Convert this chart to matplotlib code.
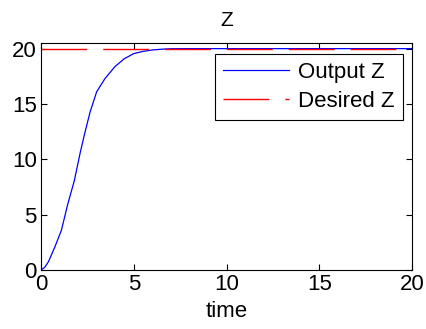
import matplotlib
matplotlib.use("Agg")
import matplotlib.pyplot as plt

# values
t = [0, 0.2, 0.4, 0.75, 1.1, 1.45, 1.8, 2.1, 2.35, 2.65, 3.0, 3.45,
     4.0, 4.5, 5.0, 5.5, 6.0, 6.6, 7.0, 8.0, 20]
z_out = [0, 0.25, 0.75, 2.1, 3.6, 6.0, 8.1, 10.5, 12.3, 14.3, 16.1, 17.3,
         18.4, 19.1, 19.55, 19.75, 19.88, 19.96, 19.99, 20.0, 20.0]
t_des = [0, 20]
z_des = [20, 20]

plt.rcParams['font.family'] = ['Liberation Sans', 'DejaVu Sans']
plt.rcParams['font.size'] = 16

fig = plt.figure(figsize=(4.27, 3.29), dpi=100)
ax = fig.add_axes([0.096, 0.179, 0.869, 0.690])

ax.plot(t, z_out, color=(0, 0, 1), lw=0.9, label='Output Z')
ax.plot(t_des, z_des, color=(1, 0, 0), lw=1.0, ls=(0, (33, 11.5)),
        label='Desired Z')

ax.set_xlim(0, 20)
ax.set_ylim(0, 20.5)
ax.set_xticks([0, 5, 10, 15, 20])
ax.set_yticks([0, 5, 10, 15, 20])
ax.tick_params(direction='in', top=True, right=True, length=4, width=0.8, pad=3)
for s in ax.spines.values():
    s.set_linewidth(0.8)

ax.set_title('Z', fontsize=15, pad=12)
ax.set_xlabel('time', labelpad=4)

leg = ax.legend(loc='upper right', bbox_to_anchor=(0.975, 0.95), fancybox=False,
                framealpha=1, edgecolor='black', handlelength=3.0,
                handletextpad=0.4, borderpad=0.35, labelspacing=0.35,
                borderaxespad=0)
leg.get_frame().set_linewidth(0.8)

fig.savefig('out.png', dpi=100)
